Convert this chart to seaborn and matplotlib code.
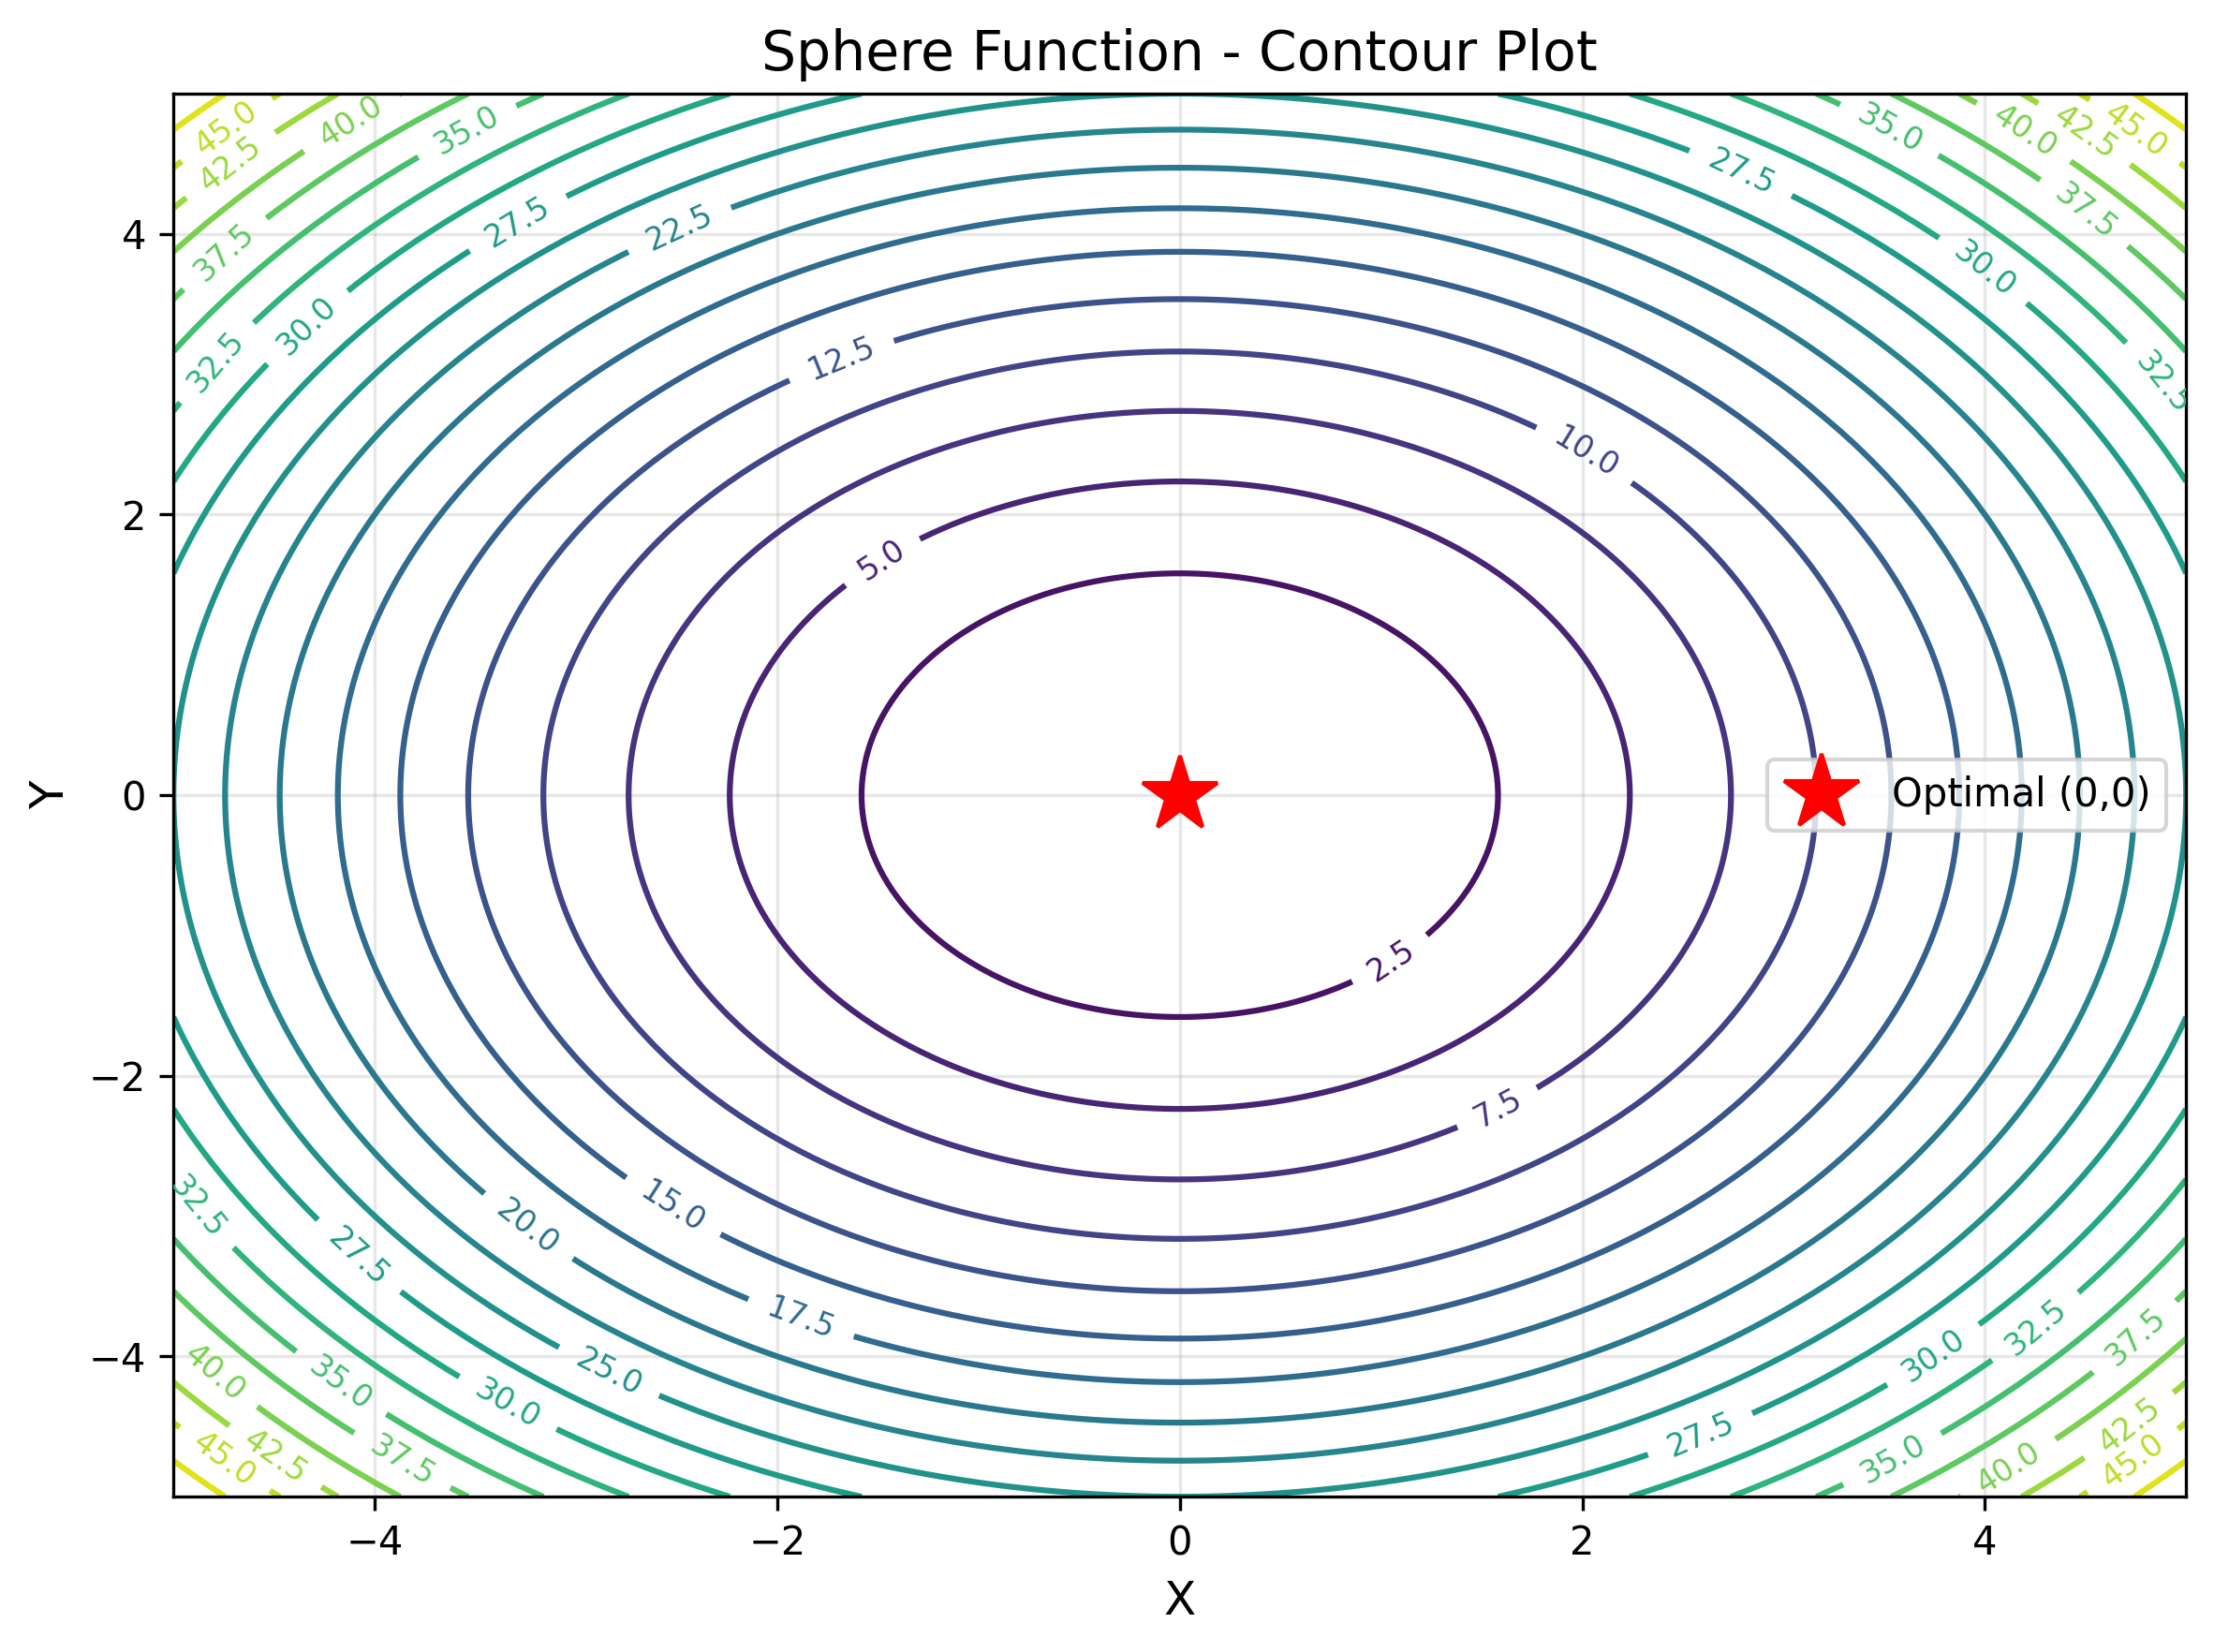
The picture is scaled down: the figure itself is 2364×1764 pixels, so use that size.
import numpy as np
import matplotlib.pyplot as plt
import seaborn as sns

# grid for the sphere function f(x, y) = x^2 + y^2
x_vals = np.linspace(-5, 5, 200)
y_vals = np.linspace(-5, 5, 200)
optimum_x = [0]
optimum_y = [0]

X, Y = np.meshgrid(x_vals, y_vals)
Z = X**2 + Y**2

cmap = sns.color_palette("viridis", as_cmap=True)

fig, ax = plt.subplots(figsize=(8, 6))
cs = ax.contour(X, Y, Z, levels=20, cmap=cmap, linewidths=1.5)
ax.clabel(cs, inline=True, fontsize=8)
ax.plot(optimum_x, optimum_y, 'r*', markersize=20, label='Optimal (0,0)')

ax.set_title('Sphere Function - Contour Plot', fontsize=14)
ax.set_xlabel('X', fontsize=12)
ax.set_ylabel('Y', fontsize=12)
ax.legend()
ax.grid(True, alpha=0.3)

plt.tight_layout()
plt.savefig('out.png', dpi=300, bbox_inches='tight')
